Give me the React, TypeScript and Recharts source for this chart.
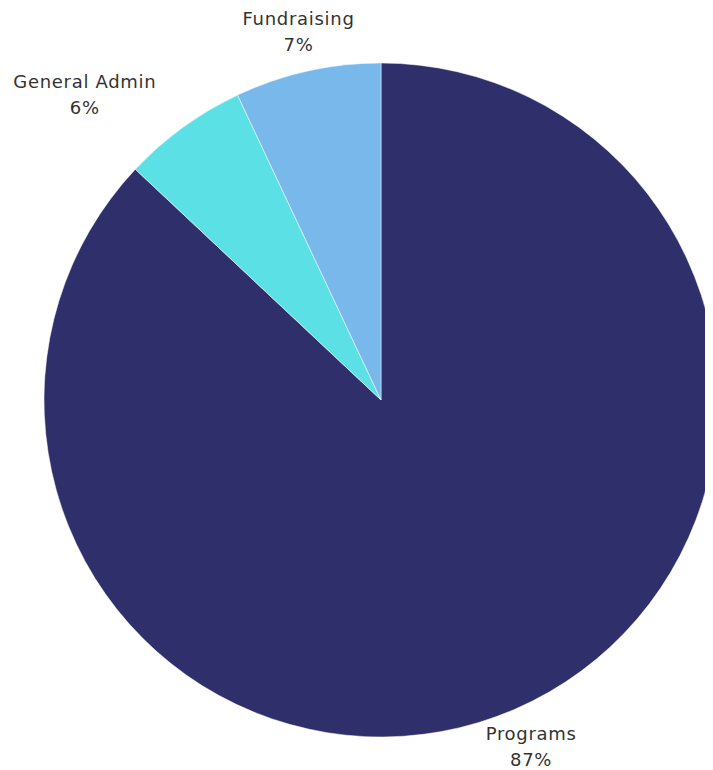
import React from "react";
import { PieChart, Pie, Cell } from "recharts";

const categories = ["Programs", "General Admin", "Fundraising"];
const values = [87, 6, 7];
const colors = ["#2E2F6B", "#5BE0E6", "#79B8EA"];

const data = categories.map((name, i) => ({ name, value: values[i] }));

const RAD = Math.PI / 180;

const renderLabel = (props: any) => {
  const { cx, cy, midAngle, outerRadius, index } = props;
  const r = outerRadius + 41;
  const px = cx + r * Math.cos(-midAngle * RAD);
  const py = cy + r * Math.sin(-midAngle * RAD);
  let x = px;
  if (px < cx - 0.5 * outerRadius) x = px - 74;
  const common = {
    textAnchor: "middle" as const,
    dominantBaseline: "central" as const,
    fill: "#333333",
    fontSize: 18,
    letterSpacing: 0.7,
    fontFamily: "'DejaVu Sans', sans-serif",
  };
  return (
    <g>
      <text x={x} y={py - 13} {...common}>
        {categories[index]}
      </text>
      <text x={x} y={py + 13} {...common}>
        {values[index] + "%"}
      </text>
    </g>
  );
};

export default function App() {
  return (
    <PieChart width={705} height={762} margin={{ top: 0, right: 0, bottom: 0, left: 0 }}>
      <Pie
        data={data}
        dataKey="value"
        cx={373}
        cy={392}
        outerRadius={337}
        startAngle={90}
        endAngle={-270}
        stroke="#ffffff"
        strokeWidth={0.5}
        label={renderLabel}
        labelLine={false}
        isAnimationActive={false}
      >
        {data.map((d, i) => (
          <Cell key={d.name} fill={colors[i]} />
        ))}
      </Pie>
    </PieChart>
  );
}
